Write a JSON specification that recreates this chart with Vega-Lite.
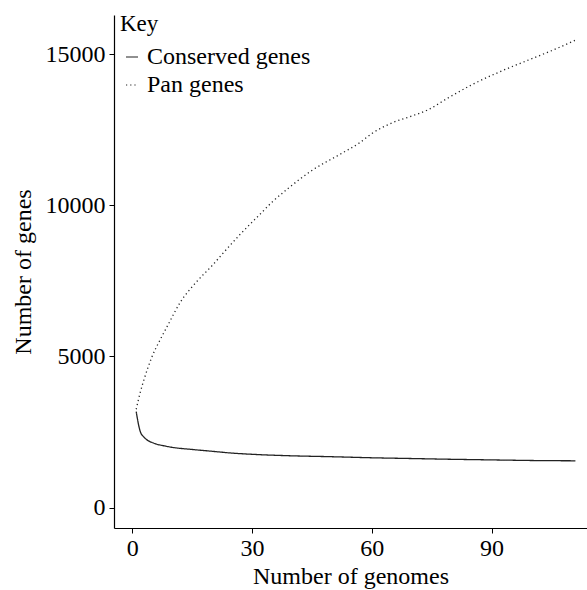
{
  "$schema": "https://vega.github.io/schema/vega-lite/v6.json",
  "width": 473,
  "height": 513,
  "autosize": {"type": "none"},
  "padding": {"left": 114, "top": 15, "right": 0, "bottom": 62},
  "background": "white",
  "config": {
    "font": "Liberation Serif",
    "view": {"stroke": null},
    "axis": {"grid": false, "domainColor": "#000", "domainWidth": 1.2, "tickColor": "#000", "tickSize": 5, "labelFont": "Liberation Serif", "titleFont": "Liberation Serif", "labelFontSize": 24, "titleFontSize": 24, "labelColor": "#000", "titleColor": "#000", "titleFontWeight": "normal", "format": "d"}
  },
  "data": {"values": [
    {"genomes": 1, "genes": 3170, "type": "Conserved genes"},
    {"genomes": 2, "genes": 2520, "type": "Conserved genes"},
    {"genomes": 3, "genes": 2320, "type": "Conserved genes"},
    {"genomes": 4, "genes": 2210, "type": "Conserved genes"},
    {"genomes": 5, "genes": 2150, "type": "Conserved genes"},
    {"genomes": 6, "genes": 2100, "type": "Conserved genes"},
    {"genomes": 8, "genes": 2040, "type": "Conserved genes"},
    {"genomes": 10, "genes": 1990, "type": "Conserved genes"},
    {"genomes": 15, "genes": 1920, "type": "Conserved genes"},
    {"genomes": 20, "genes": 1860, "type": "Conserved genes"},
    {"genomes": 25, "genes": 1800, "type": "Conserved genes"},
    {"genomes": 30, "genes": 1760, "type": "Conserved genes"},
    {"genomes": 40, "genes": 1710, "type": "Conserved genes"},
    {"genomes": 50, "genes": 1680, "type": "Conserved genes"},
    {"genomes": 60, "genes": 1645, "type": "Conserved genes"},
    {"genomes": 70, "genes": 1620, "type": "Conserved genes"},
    {"genomes": 80, "genes": 1595, "type": "Conserved genes"},
    {"genomes": 90, "genes": 1575, "type": "Conserved genes"},
    {"genomes": 100, "genes": 1555, "type": "Conserved genes"},
    {"genomes": 111, "genes": 1545, "type": "Conserved genes"},
    {"genomes": 1, "genes": 3250, "type": "Pan genes"},
    {"genomes": 2, "genes": 3800, "type": "Pan genes"},
    {"genomes": 3, "genes": 4250, "type": "Pan genes"},
    {"genomes": 4, "genes": 4650, "type": "Pan genes"},
    {"genomes": 5, "genes": 5000, "type": "Pan genes"},
    {"genomes": 7, "genes": 5550, "type": "Pan genes"},
    {"genomes": 9, "genes": 6050, "type": "Pan genes"},
    {"genomes": 12, "genes": 6780, "type": "Pan genes"},
    {"genomes": 16, "genes": 7450, "type": "Pan genes"},
    {"genomes": 20, "genes": 8000, "type": "Pan genes"},
    {"genomes": 23, "genes": 8450, "type": "Pan genes"},
    {"genomes": 27, "genes": 9030, "type": "Pan genes"},
    {"genomes": 32, "genes": 9700, "type": "Pan genes"},
    {"genomes": 35, "genes": 10100, "type": "Pan genes"},
    {"genomes": 39, "genes": 10550, "type": "Pan genes"},
    {"genomes": 45, "genes": 11150, "type": "Pan genes"},
    {"genomes": 52, "genes": 11680, "type": "Pan genes"},
    {"genomes": 57, "genes": 12070, "type": "Pan genes"},
    {"genomes": 60, "genes": 12370, "type": "Pan genes"},
    {"genomes": 65, "genes": 12720, "type": "Pan genes"},
    {"genomes": 70, "genes": 12950, "type": "Pan genes"},
    {"genomes": 74, "genes": 13150, "type": "Pan genes"},
    {"genomes": 79, "genes": 13540, "type": "Pan genes"},
    {"genomes": 85, "genes": 13980, "type": "Pan genes"},
    {"genomes": 92, "genes": 14410, "type": "Pan genes"},
    {"genomes": 99, "genes": 14790, "type": "Pan genes"},
    {"genomes": 105, "genes": 15110, "type": "Pan genes"},
    {"genomes": 111, "genes": 15460, "type": "Pan genes"}
  ]},
  "mark": {"type": "line", "color": "#222", "strokeWidth": 1.3, "clip": true, "interpolate": "monotone"},
  "encoding": {
    "x": {"field": "genomes", "type": "quantitative", "title": "Number of genomes",
      "scale": {"domain": [-4.56, 113.9], "nice": false, "zero": false},
      "axis": {"values": [0, 30, 60, 90], "labelPadding": 3, "titlePadding": 4}},
    "y": {"field": "genes", "type": "quantitative", "title": "Number of genes",
      "scale": {"domain": [-678, 16292], "nice": false, "zero": false},
      "axis": {"values": [0, 5000, 10000, 15000], "labelPadding": 4, "titlePadding": 10}},
    "strokeDash": {"field": "type", "type": "nominal",
      "scale": {"domain": ["Conserved genes", "Pan genes"], "range": [[1, 0], [1.2, 3]]},
      "legend": {"title": "Key", "orient": "none", "legendX": 6, "legendY": -2,
        "symbolType": "stroke", "symbolSize": 144, "symbolStrokeWidth": 1.2, "symbolStrokeColor": "#222",
        "titleFont": "Liberation Serif", "titleFontSize": 23, "titleFontWeight": "normal", "titleColor": "#000",
        "labelFont": "Liberation Serif", "labelFontSize": 24, "labelColor": "#000", "labelOffset": 3, "labelLimit": 0,
        "rowPadding": 4, "titlePadding": 9, "padding": 0}}
  }
}
